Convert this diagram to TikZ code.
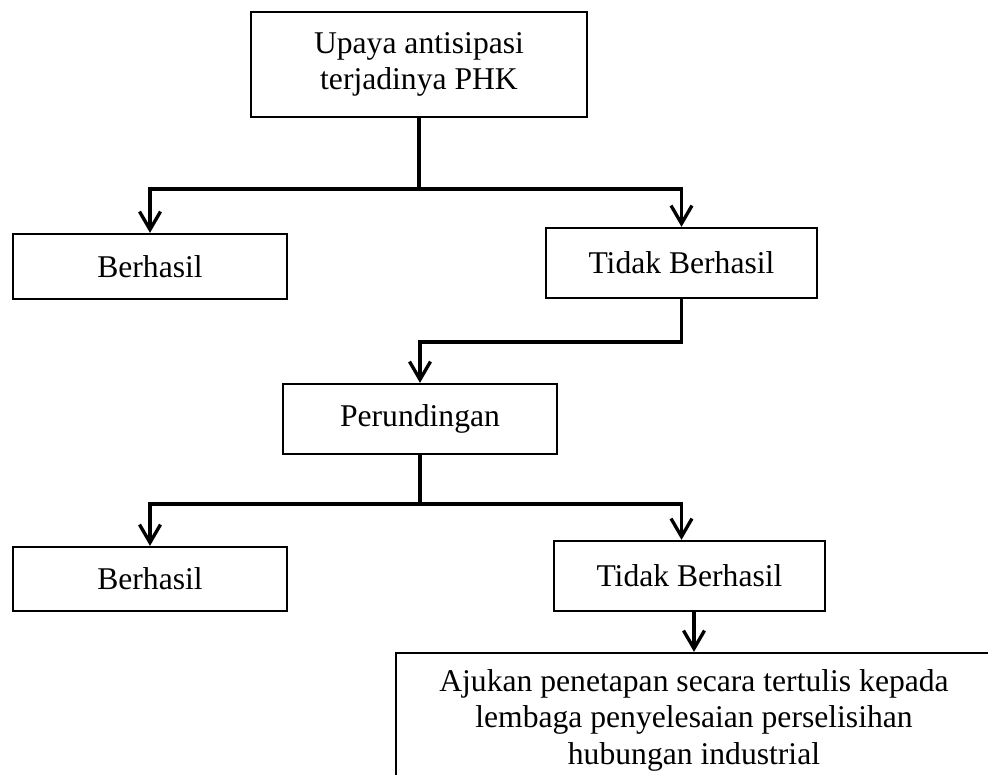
\documentclass[tikz,border=0pt]{standalone}
\usepackage{fontspec}
\setmainfont{Liberation Serif}
\usetikzlibrary{positioning,calc,arrows.meta}
\tikzset{
  blk/.style ={draw=black, line width=1.3pt, fill=white, align=center,
               font=\fontsize{18}{20.8}\selectfont, inner sep=2pt},
  ln/.style  ={line width=1.9pt, draw=black},
  arr/.style ={-{Straight Barb[length=3.6mm, width=4.2mm]}, line width=1.9pt, draw=black},
}

\begin{document}
\begin{tikzpicture}

  % ---- page frame ----
  \useasboundingbox (0,0) rectangle (19.76,-15.5);
  \clip (0,0) rectangle (19.76,-15.5);

  % ---- first step ----
  \node[blk, minimum width=6.72cm, minimum height=2.1cm] (upaya) at (8.38,-1.29)
      {Upaya antisipasi\\terjadinya PHK};
  \node[blk, minimum width=5.48cm, minimum height=1.3cm] (ber1) at (3.0,-5.33) {Berhasil};
  \node[blk, minimum width=5.42cm, minimum height=1.4cm] (tdk1) at (13.63,-5.26) {Tidak Berhasil};
  \draw[ln] (upaya.south) -- ++(0,-1.42) coordinate (j1);
  \draw[arr] (j1) -| (ber1.north);
  \draw[arr] (j1) -| (tdk1.north);

  % ---- negotiation ----
  \node[blk, minimum width=5.48cm, minimum height=1.4cm] (rund) at (8.4,-8.38) {Perundingan};
  \draw[arr] (tdk1.south) -- ++(0,-0.86) -| (rund.north);

  \node[blk, minimum width=5.48cm, minimum height=1.28cm] (ber2) at (3.0,-11.58) {Berhasil};
  \node[blk, minimum width=5.42cm, minimum height=1.4cm] (tdk2) at (13.79,-11.52) {Tidak Berhasil};
  \draw[ln] (rund.south) -- ++(0,-0.98) coordinate (j2);
  \draw[arr] (j2) -| (ber2.north);
  \draw[arr] (j2) -| (tdk1.south |- tdk2.north);

  % ---- last resort ----
  \node[blk, minimum width=11.92cm, minimum height=2.68cm] (ajukan) at (13.88,-14.4)
      {Ajukan penetapan secara tertulis kepada\\lembaga penyelesaian perselisihan\\hubungan industrial};
  \draw[arr] (ajukan.north |- tdk2.south) -- (ajukan.north);

\end{tikzpicture}
\end{document}
